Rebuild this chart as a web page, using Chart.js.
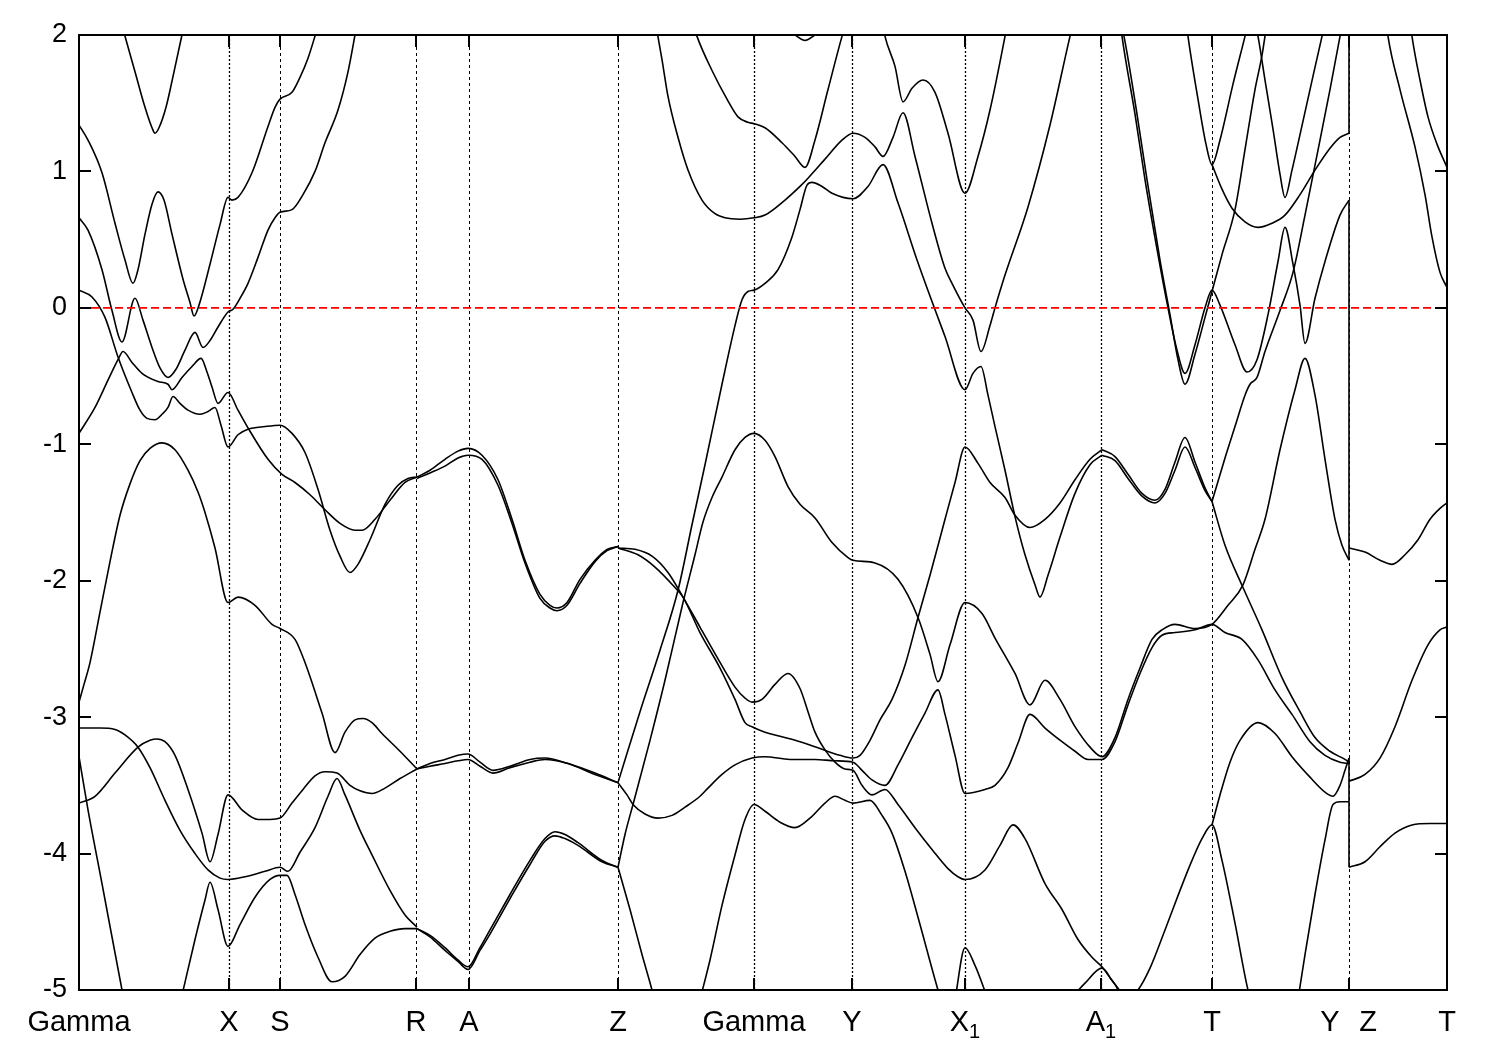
<!DOCTYPE html>
<html><head><meta charset="utf-8">
<script src="https://cdn.jsdelivr.net/npm/chart.js@4.4.1/dist/chart.umd.min.js"></script>
<style>html,body{margin:0;padding:0;background:#fff;}#wrap{width:1500px;height:1050px;}</style>
</head><body><div id="wrap"><canvas id="c" width="1500" height="1050"></canvas></div>
<script>
// High-symmetry path (k positions) and labels
const symLabels = ["Gamma","X","S","R","A","Z","Gamma","Y","X_1","A_1","T","Y","Z","T"];
const symK = [0,1.50,2.01,3.37,3.90,5.39,6.75,7.73,8.86,10.22,11.33,12.70,12.70,13.68];
const yTicks = [2,1,0,-1,-2,-3,-4,-5];
const fermi = [[0,0],[13.68,0]];

// Bands: k values and energies (eV)
const b01k=[0.43,0.56,0.66,0.73,0.76,0.80,0.87,0.95,1.05];
const b01e=[2.07,1.73,1.47,1.32,1.28,1.32,1.47,1.73,2.07];
const b02k=[0,0.09,0.23,0.36,0.46,0.54,0.59,0.66,0.73,0.79,0.85,0.93,1.04,1.11,1.15,1.20,1.31,1.41,1.49,1.53,1.59,1.73,1.89,1.96,2.01,2.13,2.21,2.29,2.38];
const b02e=[1.34,1.23,0.99,0.62,0.35,0.18,0.28,0.54,0.76,0.85,0.79,0.54,0.21,0.04,-0.06,0.02,0.32,0.61,0.81,0.79,0.81,0.99,1.33,1.47,1.53,1.58,1.69,1.83,2.04];
const b03k=[0,0.09,0.23,0.33,0.43,0.56,0.64,0.73,0.81,0.89,0.97,1.06,1.16,1.24,1.31,1.39,1.49,1.54,1.61,1.69,1.79,1.89,1.96,2.01,2.13,2.24,2.36,2.46,2.59,2.69,2.77];
const b03e=[0.66,0.57,0.28,-0.02,-0.25,0.07,-0.09,-0.29,-0.44,-0.51,-0.45,-0.31,-0.18,-0.29,-0.24,-0.14,-0.03,-0.01,0.07,0.18,0.37,0.57,0.66,0.70,0.72,0.83,1.00,1.21,1.45,1.73,2.04];
const b04k=[0,0.13,0.26,0.39,0.53,0.61,0.68,0.76,0.83,0.89,0.94,1.01,1.09,1.21,1.29,1.36,1.42,1.49,1.59,1.69,1.86,2.01,2.13,2.26,2.39,2.51,2.61,2.71,2.79,2.91,3.06,3.19,3.29,3.38];
const b04e=[0.13,0.08,-0.07,-0.36,-0.62,-0.75,-0.81,-0.82,-0.78,-0.73,-0.65,-0.70,-0.75,-0.78,-0.76,-0.73,-0.86,-1.02,-0.93,-0.89,-0.87,-0.86,-0.92,-1.06,-1.33,-1.63,-1.82,-1.94,-1.88,-1.70,-1.44,-1.30,-1.25,-1.24];
const b05k=[0,0.16,0.29,0.39,0.44,0.53,0.63,0.79,0.89,0.93,1.03,1.13,1.22,1.28,1.33,1.39,1.49,1.59,1.69,1.89,2.03,2.16,2.31,2.46,2.61,2.76,2.83,2.96,3.11,3.26,3.38];
const b05e=[-0.92,-0.73,-0.53,-0.38,-0.32,-0.40,-0.48,-0.54,-0.56,-0.60,-0.51,-0.43,-0.37,-0.47,-0.58,-0.70,-0.62,-0.75,-0.88,-1.11,-1.22,-1.28,-1.37,-1.48,-1.58,-1.63,-1.63,-1.55,-1.41,-1.28,-1.24];
const b06k=[0,0.05,0.11,0.21,0.31,0.41,0.51,0.61,0.71,0.83,0.96,1.09,1.19,1.26,1.36,1.49,1.59,1.76,1.93,2.01,2.16,2.26,2.43,2.56,2.66,2.76,2.84,2.93,3.03,3.21,3.38];
const b06e=[-2.89,-2.76,-2.60,-2.23,-1.86,-1.52,-1.29,-1.12,-1.03,-0.99,-1.04,-1.19,-1.35,-1.50,-1.76,-2.16,-2.12,-2.18,-2.32,-2.35,-2.43,-2.60,-2.97,-3.26,-3.11,-3.02,-3.01,-3.04,-3.12,-3.25,-3.38];
const b07k=[0,0.21,0.36,0.46,0.59,0.71,0.86,1.01,1.16,1.29,1.41,1.49,1.66,1.86,2.01,2.09,2.21,2.36,2.49,2.58,2.66,2.81,2.93,3.11,3.26,3.38];
const b07e=[-3.08,-3.08,-3.09,-3.13,-3.22,-3.37,-3.61,-3.83,-4.00,-4.12,-4.18,-4.19,-4.17,-4.13,-4.10,-4.13,-3.99,-3.81,-3.58,-3.45,-3.57,-3.83,-4.01,-4.27,-4.45,-4.54];
const b08k=[0,0.16,0.36,0.59,0.71,0.78,0.86,0.96,1.09,1.23,1.31,1.39,1.49,1.63,1.79,1.91,2.01,2.13,2.24,2.36,2.46,2.58,2.71,2.81,2.93,3.06,3.21,3.38];
const b08e=[-3.63,-3.58,-3.41,-3.22,-3.17,-3.16,-3.18,-3.28,-3.53,-3.85,-4.06,-3.86,-3.57,-3.68,-3.75,-3.75,-3.74,-3.63,-3.53,-3.43,-3.40,-3.41,-3.50,-3.54,-3.56,-3.52,-3.45,-3.38];
const b09k=[0,0.09,0.23,0.43,0.46];
const b09e=[-3.29,-3.68,-4.22,-5.0,-5.11];
const b10k=[1.02,1.16,1.26,1.31,1.39,1.49,1.61,1.76,1.91,2.01,2.08,2.16,2.26,2.39,2.53,2.66,2.81,2.96,3.11,3.26,3.38];
const b10e=[-5.07,-4.63,-4.34,-4.21,-4.41,-4.68,-4.52,-4.32,-4.19,-4.16,-4.16,-4.30,-4.52,-4.76,-4.94,-4.90,-4.74,-4.62,-4.57,-4.55,-4.55];
const b11k=[3.38,3.51,3.66,3.79,3.89,4.03,4.19,4.33,4.46,4.61,4.71,4.78,4.88,5.01,5.16,5.28,5.39];
const b11e=[-1.24,-1.19,-1.11,-1.05,-1.03,-1.08,-1.26,-1.55,-1.85,-2.10,-2.18,-2.20,-2.16,-1.99,-1.85,-1.77,-1.75];
const b12k=[3.38,3.51,3.66,3.79,3.89,4.03,4.19,4.33,4.46,4.61,4.71,4.78,4.88,5.01,5.16,5.28,5.39];
const b12e=[-1.25,-1.21,-1.16,-1.10,-1.08,-1.11,-1.30,-1.58,-1.87,-2.13,-2.20,-2.22,-2.18,-2.02,-1.86,-1.78,-1.75];
const b13k=[3.38,3.51,3.66,3.79,3.89,4.01,4.14,4.31,4.51,4.66,4.89,5.16,5.39];
const b13e=[-3.38,-3.34,-3.31,-3.28,-3.27,-3.33,-3.39,-3.36,-3.31,-3.30,-3.34,-3.41,-3.48];
const b14k=[3.38,3.51,3.66,3.79,3.89,4.01,4.14,4.31,4.51,4.66,4.89,5.16,5.39];
const b14e=[-3.38,-3.36,-3.34,-3.32,-3.31,-3.36,-3.41,-3.37,-3.33,-3.31,-3.34,-3.42,-3.48];
const b15k=[3.38,3.51,3.66,3.79,3.89,4.01,4.11,4.31,4.51,4.66,4.76,4.86,4.99,5.23,5.39];
const b15e=[-4.55,-4.60,-4.69,-4.78,-4.83,-4.69,-4.56,-4.30,-4.05,-3.89,-3.84,-3.86,-3.92,-4.05,-4.10];
const b16k=[3.38,3.51,3.66,3.79,3.89,4.01,4.11,4.31,4.51,4.66,4.76,4.86,4.99,5.23,5.39];
const b16e=[-4.55,-4.61,-4.71,-4.79,-4.85,-4.71,-4.59,-4.33,-4.08,-3.91,-3.87,-3.89,-3.94,-4.06,-4.10];
const b17k=[5.39,5.56,5.73,5.89,6.04,6.21,6.38,6.56,6.66,6.73,6.83,6.96,7.09,7.21,7.29,7.36,7.46,7.56,7.66,7.74,7.83,7.93,8.06,8.19,8.36,8.53,8.69,8.79,8.86,9.06,9.21,9.34,9.46,9.66,9.83,9.99,10.13,10.23,10.31,10.39,10.42];
const b17e=[-1.76,-1.77,-1.82,-1.94,-2.12,-2.34,-2.56,-2.78,-2.86,-2.89,-2.87,-2.76,-2.68,-2.79,-2.96,-3.11,-3.24,-3.33,-3.38,-3.39,-3.50,-3.57,-3.53,-3.64,-3.81,-3.97,-4.11,-4.17,-4.19,-4.12,-3.94,-3.79,-3.89,-4.22,-4.41,-4.63,-4.76,-4.83,-4.91,-5.0,-5.07];
const b18k=[5.39,5.59,5.76,5.96,6.04,6.21,6.41,6.56,6.66,6.73,6.86,7.01,7.21,7.41,7.61,7.74,7.81,7.91,8.01,8.13,8.26,8.39,8.51,8.66,8.76,8.86,8.99,9.11,9.26,9.36,9.51,9.66,9.81,9.96,10.11,10.23];
const b18e=[-1.76,-1.81,-1.90,-2.05,-2.12,-2.38,-2.64,-2.87,-3.04,-3.07,-3.11,-3.14,-3.18,-3.23,-3.28,-3.30,-3.28,-3.17,-3.02,-2.87,-2.62,-2.27,-1.96,-1.55,-1.28,-1.02,-1.14,-1.28,-1.39,-1.52,-1.61,-1.55,-1.43,-1.26,-1.11,-1.04];
const b19k=[5.39,5.61,5.81,5.99,6.13,6.26,6.43,6.56,6.63,6.69,6.75,6.86,6.99,7.13,7.21,7.28,7.33,7.43,7.53,7.74,7.89,8.04,8.19,8.39,8.66,8.86,8.94,9.02,9.09,9.16,9.26,9.36,9.46,9.56,9.61,9.69,9.81,9.96,10.11,10.23];
const b19e=[-3.48,-2.96,-2.51,-2.07,-1.59,-1.15,-0.56,-0.13,0.06,0.12,0.13,0.18,0.28,0.52,0.72,0.90,0.92,0.89,0.84,0.80,0.89,1.05,0.77,0.33,-0.21,-0.60,-0.48,-0.43,-0.64,-0.87,-1.19,-1.53,-1.81,-2.03,-2.12,-1.96,-1.68,-1.36,-1.15,-1.08];
const b20k=[5.39,5.46,5.54,5.71,5.86,6.04,6.16,6.24,6.33,6.43,6.56,6.66,6.75,6.86,6.96,7.09,7.21,7.36,7.53,7.69,7.74,7.96,8.19,8.39,8.51,8.59,8.71,8.86,9.03,9.16,9.36,9.51,9.66,9.81,9.96,10.11,10.23,10.36,10.49,10.61,10.73,10.83,10.96,11.16,11.33,11.49,11.64,11.76,11.86,12.01,12.16,12.26,12.36,12.46,12.56,12.63,12.70];
const b20e=[-4.10,-3.86,-3.64,-3.17,-2.73,-2.16,-1.81,-1.57,-1.39,-1.24,-1.04,-0.95,-0.92,-0.97,-1.09,-1.31,-1.44,-1.54,-1.72,-1.83,-1.85,-1.87,-1.99,-2.27,-2.54,-2.74,-2.47,-2.16,-2.24,-2.42,-2.68,-2.91,-2.73,-2.87,-3.07,-3.22,-3.29,-3.15,-2.87,-2.64,-2.43,-2.36,-2.32,-2.35,-2.32,-2.18,-2.03,-1.77,-1.55,-1.04,-0.60,-0.37,-0.64,-1.11,-1.55,-1.74,-1.85];
const b21k=[5.39,5.48,5.54,5.66,5.79,5.93,6.06,6.21,6.29,6.43,6.56,6.73,6.86,7.11,7.36,7.56,7.74,7.83,7.93,8.06,8.19,8.33,8.46,8.59,8.66,8.76,8.86,9.06,9.16,9.29,9.39,9.51,9.66,9.83,9.96,10.09,10.23,10.36,10.49,10.61,10.73,10.83,10.96,11.16,11.33,11.46,11.63,11.79,11.96,12.13,12.31,12.46,12.61,12.70];
const b21e=[-3.48,-3.57,-3.64,-3.71,-3.74,-3.72,-3.66,-3.58,-3.52,-3.42,-3.35,-3.30,-3.29,-3.31,-3.31,-3.32,-3.33,-3.39,-3.46,-3.50,-3.35,-3.15,-2.97,-2.80,-2.98,-3.28,-3.56,-3.53,-3.50,-3.37,-3.19,-2.98,-3.08,-3.18,-3.25,-3.31,-3.31,-3.18,-2.91,-2.68,-2.49,-2.40,-2.38,-2.36,-2.32,-2.38,-2.43,-2.58,-2.80,-2.98,-3.18,-3.28,-3.33,-3.34];
const b22k=[5.39,5.51,5.63,5.73,5.76];
const b22e=[-4.10,-4.41,-4.74,-5.0,-5.09];
const b23k=[6.21,6.31,6.43,6.56,6.66,6.75,6.86,7.01,7.16,7.31,7.46,7.56,7.66,7.74,7.91,8.03,8.13,8.26,8.41,8.59,8.62];
const b23e=[-5.07,-4.78,-4.38,-4.01,-3.75,-3.64,-3.69,-3.77,-3.81,-3.74,-3.63,-3.58,-3.61,-3.63,-3.61,-3.72,-3.85,-4.13,-4.52,-5.0,-5.07];
const b24k=[5.76,5.83,5.89,5.99,6.09,6.23,6.36,6.46,6.61,6.75,6.86,7.06,7.21,7.29,7.46,7.63,7.74,7.86,7.96,8.04,8.14,8.24,8.36,8.53,8.66,8.73,8.86,8.94,9.02,9.11,9.16,9.26,9.49,9.71,9.91,9.95];
const b24e=[2.11,1.82,1.55,1.25,1.01,0.79,0.69,0.66,0.65,0.66,0.68,0.79,0.89,0.95,1.09,1.23,1.28,1.25,1.18,1.11,1.25,1.43,1.11,0.62,0.29,0.18,0.0,-0.09,-0.32,-0.13,0.0,0.24,0.74,1.34,1.99,2.11];
const b25k=[6.13,6.18,6.33,6.48,6.59,6.69,6.75,6.86,7.03,7.16,7.26,7.36,7.49,7.63,7.68];
const b25e=[2.11,1.99,1.74,1.53,1.40,1.36,1.35,1.32,1.21,1.11,1.03,1.23,1.60,1.99,2.11];
const b26k=[7.11,7.18,7.26,7.34,7.41];
const b26e=[2.04,1.99,1.96,1.99,2.04];
const b27k=[8.03,8.06,8.16,8.24,8.33,8.44,8.56,8.69,8.86,8.99,9.11,9.26,9.29];
const b27e=[2.11,1.99,1.77,1.51,1.61,1.67,1.58,1.28,0.84,1.11,1.45,1.99,2.11];
const b28k=[8.76,8.86,8.96,9.09];
const b28e=[-5.07,-4.69,-4.82,-5.07];
const b29k=[9.91,10.06,10.23,10.33,10.43,10.51,10.59,10.71,10.86,11.01,11.13,11.23,11.33,11.43,11.56,11.69,11.72];
const b29e=[-5.07,-4.95,-4.84,-4.93,-5.02,-5.05,-5.0,-4.84,-4.56,-4.27,-4.05,-3.89,-3.79,-4.05,-4.51,-5.0,-5.07];
const b30k=[11.33,11.41,11.51,11.61,11.79,11.96,12.13,12.31,12.46,12.54,12.61,12.66,12.70];
const b30e=[-3.79,-3.57,-3.33,-3.17,-3.04,-3.12,-3.29,-3.44,-3.55,-3.58,-3.50,-3.39,-3.30];
const b31k=[12.19,12.26,12.36,12.46,12.54,12.61,12.70];
const b31e=[-5.07,-4.74,-4.30,-3.90,-3.64,-3.62,-3.62];
const b32k=[11.33,11.46,11.64,11.83,12.03,12.21,12.36,12.51,12.66,12.70];
const b32e=[-1.42,-1.74,-2.05,-2.36,-2.71,-2.96,-3.15,-3.25,-3.31,-3.33];
const b33k=[10.23,10.36,10.49,10.63,10.76,10.86,10.96,11.06,11.16,11.26,11.33];
const b33e=[-1.04,-1.09,-1.22,-1.36,-1.41,-1.33,-1.13,-0.95,-1.13,-1.32,-1.42];
const b34k=[10.23,10.36,10.49,10.63,10.76,10.86,10.96,11.06,11.16,11.26,11.33];
const b34e=[-1.08,-1.12,-1.25,-1.38,-1.43,-1.36,-1.19,-1.02,-1.17,-1.34,-1.42];
const b35k=[11.33,11.46,11.56,11.66,11.71,11.78,11.86,12.01,12.14,12.26,12.41,12.51,12.61,12.64];
const b35e=[-1.42,-1.10,-0.87,-0.64,-0.56,-0.51,-0.32,-0.02,0.26,0.68,1.23,1.60,1.99,2.11];
const b36k=[10.41,10.43,10.56,10.66,10.79,10.89,10.98,11.06,11.16,11.26,11.33,11.41,11.56,11.68,11.78,11.89,11.99,12.06,12.14,12.21,12.26,12.36,12.46,12.61,12.70];
const b36e=[2.11,1.99,1.42,0.94,0.39,0.0,-0.31,-0.48,-0.27,0.0,0.13,0.02,-0.27,-0.47,-0.38,-0.05,0.34,0.59,0.32,0.02,-0.26,0.07,0.34,0.68,0.79];
const b37k=[10.41,10.45,10.58,10.68,10.81,10.91,10.99,11.06,11.16,11.26,11.33,11.43,11.56,11.66,11.76,11.83,11.87];
const b37e=[2.11,1.99,1.42,0.94,0.35,-0.05,-0.38,-0.56,-0.34,-0.07,0.12,0.39,0.72,1.16,1.60,1.85,2.04];
const b38k=[11.07,11.09,11.19,11.27,11.33,11.41,11.54,11.66,11.70];
const b38e=[2.11,1.99,1.53,1.20,1.05,1.23,1.64,1.99,2.11];
const b39k=[11.33,11.43,11.53,11.66,11.79,11.93,12.06,12.21,12.36,12.51,12.61,12.70];
const b39e=[1.05,0.87,0.73,0.63,0.59,0.62,0.68,0.83,1.01,1.17,1.25,1.28];
const b40k=[11.75,11.79,11.86,11.94,12.01,12.06,12.13,12.21,12.31,12.43,12.47];
const b40e=[2.11,1.99,1.67,1.31,0.98,0.81,1.01,1.27,1.60,1.99,2.11];
const b41k=[12.70,12.86,13.01,13.13,13.26,13.39,13.51,13.61,13.68];
const b41e=[-1.76,-1.79,-1.85,-1.88,-1.81,-1.70,-1.55,-1.47,-1.43];
const b42k=[12.70,12.86,13.01,13.16,13.33,13.49,13.61,13.68];
const b42e=[-3.47,-3.42,-3.30,-3.07,-2.73,-2.47,-2.36,-2.34];
const b43k=[12.70,12.86,13.01,13.16,13.33,13.51,13.68];
const b43e=[-4.10,-4.06,-3.95,-3.85,-3.79,-3.78,-3.78];
const b44k=[13.07,13.09,13.21,13.36,13.46,13.53,13.61,13.68];
const b44e=[2.11,1.99,1.60,1.18,0.83,0.52,0.26,0.15];
const b45k=[13.31,13.33,13.41,13.49,13.58,13.68];
const b45e=[2.11,1.99,1.67,1.40,1.20,1.03];
// band jumps drawn at the Y|Z discontinuity
const j1k=[12.70,12.70]; const j1e=[2.1,1.28];
const j2k=[12.70,12.70]; const j2e=[0.79,-1.85];
const j3k=[12.70,12.70]; const j3e=[-3.30,-4.10];

const bandSets = [
 [b01k,b01e],[b02k,b02e],[b03k,b03e],[b04k,b04e],[b05k,b05e],[b06k,b06e],[b07k,b07e],[b08k,b08e],[b09k,b09e],
 [b10k,b10e],[b11k,b11e],[b12k,b12e],[b13k,b13e],[b14k,b14e],[b15k,b15e],[b16k,b16e],[b17k,b17e],[b18k,b18e],
 [b19k,b19e],[b20k,b20e],[b21k,b21e],[b22k,b22e],[b23k,b23e],[b24k,b24e],[b25k,b25e],[b26k,b26e],[b27k,b27e],
 [b28k,b28e],[b29k,b29e],[b30k,b30e],[b31k,b31e],[b32k,b32e],[b33k,b33e],[b34k,b34e],[b35k,b35e],[b36k,b36e],
 [b37k,b37e],[b38k,b38e],[b39k,b39e],[b40k,b40e],[b41k,b41e],[b42k,b42e],[b43k,b43e],[b44k,b44e],[b45k,b45e]
];
const jumpSets = [[j1k,j1e],[j2k,j2e],[j3k,j3e]];

const FONT = '"Liberation Sans", Arial, Helvetica, sans-serif';
const datasets = [{
  data: fermi, showLine:true, borderColor:'#ff0000', borderWidth:1.6, borderDash:[8,4], pointRadius:0, tension:0
}];
bandSets.forEach(([ks,es])=>{
  datasets.push({data: ks.map((k,i)=>[k,es[i]]), showLine:true, borderColor:'#000', borderWidth:1.6,
    pointRadius:0, fill:false, cubicInterpolationMode:'monotone'});
});
jumpSets.forEach(([ks,es])=>{
  datasets.push({data: ks.map((k,i)=>[k,es[i]]), showLine:true, borderColor:'#000', borderWidth:1.6,
    pointRadius:0, fill:false, tension:0});
});

const strongLines = new Set([1,6,7,8,9]);
const decor = {
  id:'decor',
  beforeDatasetsDraw(chart){
    const {ctx, chartArea:a, scales:{x}} = chart;
    ctx.save();
    ctx.strokeStyle='#000';
    symK.forEach((k,i)=>{
      if(i===0||i===symK.length-1) return;
      const px = Math.round(x.getPixelForValue(k))+0.5;
      ctx.lineWidth = strongLines.has(i)?1.3:1;
      ctx.setLineDash(strongLines.has(i)?[2,2]:[3,3]);
      ctx.beginPath(); ctx.moveTo(px,a.top); ctx.lineTo(px,a.bottom); ctx.stroke();
    });
    ctx.restore();
  },
  afterDraw(chart){
    const {ctx, chartArea:a, scales:{x,y}} = chart;
    ctx.save();
    ctx.strokeStyle='#000'; ctx.setLineDash([]);
    ctx.lineWidth=2;
    ctx.strokeRect(a.left, a.top, a.right-a.left, a.bottom-a.top);
    yTicks.forEach(v=>{
      const py = Math.round(y.getPixelForValue(v));
      ctx.beginPath(); ctx.moveTo(a.left,py); ctx.lineTo(a.left+12,py);
      ctx.moveTo(a.right,py); ctx.lineTo(a.right-12,py); ctx.stroke();
    });
    symK.forEach((k,i)=>{
      if(i===0||i===symK.length-1) return;
      const px = Math.round(x.getPixelForValue(k));
      ctx.beginPath(); ctx.moveTo(px,a.top); ctx.lineTo(px,a.top+12);
      ctx.moveTo(px,a.bottom); ctx.lineTo(px,a.bottom-12); ctx.stroke();
    });
    // path labels
    ctx.fillStyle='#000';
    ctx.textBaseline='alphabetic';
    const base = a.bottom + 41;
    symLabels.forEach((lab,i)=>{
      let px = x.getPixelForValue(symK[i]);
      if(i>0 && symK[i]===symK[i-1]) px += 19;
      else if(i<symK.length-1 && symK[i]===symK[i+1]) px -= 19;
      const parts = lab.split('_');
      ctx.font = '29px '+FONT;
      const w1 = ctx.measureText(parts[0]).width;
      let w2 = 0;
      if(parts[1]){ ctx.font='20px '+FONT; w2 = ctx.measureText(parts[1]).width; }
      const start = px - (w1+w2)/2;
      ctx.textAlign='left';
      ctx.font = '29px '+FONT;
      ctx.fillText(parts[0], start, base);
      if(parts[1]){ ctx.font='20px '+FONT; ctx.fillText(parts[1], start+w1, base+7); }
    });
    ctx.restore();
  }
};

new Chart(document.getElementById('c').getContext('2d'), {
  type:'scatter',
  data:{datasets},
  options:{
    responsive:false, animation:false, devicePixelRatio:1,
    layout:{padding:{top:35,right:53,bottom:60,left:0}},
    plugins:{legend:{display:false},tooltip:{enabled:false}},
    elements:{point:{radius:0}},
    scales:{
      x:{type:'linear',min:0,max:13.68,display:false},
      y:{type:'linear',min:-5,max:2,
         afterFit(s){ s.width = 79; },
         grid:{display:false, drawTicks:false}, border:{display:false},
         ticks:{stepSize:1, padding:12, color:'#000', font:{family:FONT,size:27}, callback:v=>String(v)}}
    }
  },
  plugins:[decor]
});
</script></body></html>
